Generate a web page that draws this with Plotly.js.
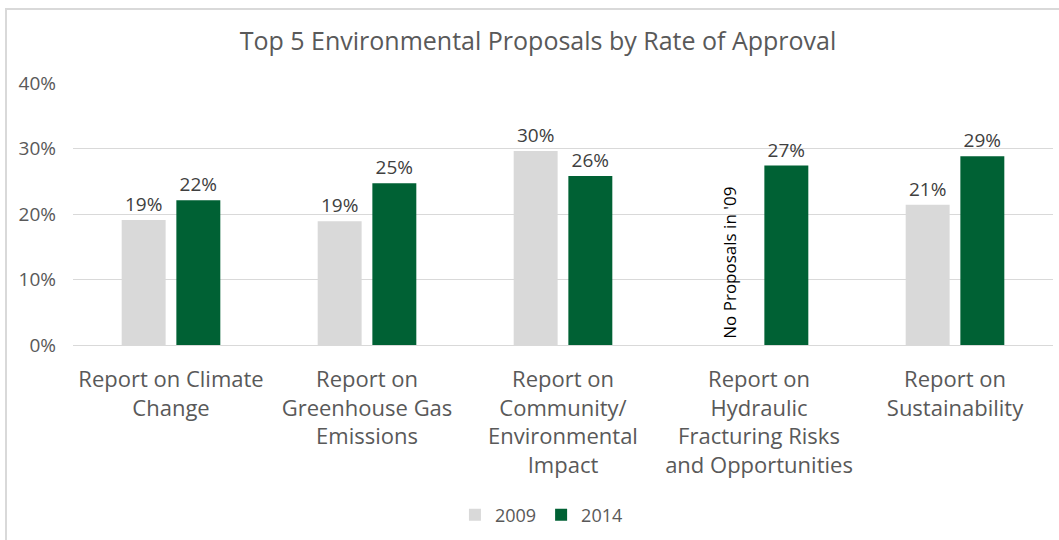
<!DOCTYPE html>
<html>
<head>
<meta charset="utf-8">
<script src="https://cdn.plot.ly/plotly-3.0.1.min.js"></script>
<style>
  html, body { margin: 0; padding: 0; background: #ffffff; }
  #wrap { position: relative; width: 1059px; height: 540px; }
  #chart { position: absolute; left: 0; top: 0; width: 1059px; height: 540px; }
  #frame { position: absolute; left: 5px; top: 8px; width: 1060px; height: 540px;
           border-left: 2px solid #d9d9d9; border-top: 2px solid #d9d9d9; pointer-events: none; }
</style>
</head>
<body>
<div id="wrap">
  <div id="chart"></div>
  <div id="frame"></div>
</div>
<script>
// ---- data ----
const categories = [
  "Report on Climate<br>Change",
  "Report on<br>Greenhouse Gas<br>Emissions",
  "Report on<br>Community/<br>Environmental<br>Impact",
  "Report on<br>Hydraulic<br>Fracturing Risks<br>and Opportunities",
  "Report on<br>Sustainability"
];
const series2009 = [0.191, 0.189, 0.296, null, 0.214];
const series2014 = [0.221, 0.247, 0.258, 0.274, 0.288];
const seriesNames = ["2009", "2014"];
const yTickValues = [0, 0.1, 0.2, 0.3, 0.4];
const chartTitle = "Top 5 Environmental Proposals by Rate of Approval";
const noteText = "No Proposals in '09";

const FONT = "Open Sans, sans-serif";

const traces = [
  {
    type: "bar", name: seriesNames[0], x: categories, y: series2009,
    marker: { color: "#d9d9d9" },
    texttemplate: "%{y:.0%}", textposition: "outside", cliponaxis: false,
    textfont: { family: FONT, size: 19, color: "#404040" },
    hoverinfo: "skip"
  },
  {
    type: "bar", name: seriesNames[1], x: categories, y: series2014,
    marker: { color: "#006134" },
    texttemplate: "%{y:.0%}", textposition: "outside", cliponaxis: false,
    textfont: { family: FONT, size: 19, color: "#404040" },
    hoverinfo: "skip"
  }
];

const layout = {
  width: 1059, height: 540,
  margin: { l: 73, r: 6, t: 83, b: 195 },
  paper_bgcolor: "rgba(0,0,0,0)", plot_bgcolor: "rgba(0,0,0,0)",
  font: { family: FONT, color: "#595959" },
  title: {
    text: chartTitle, x: 0.4745, xref: "paper", xanchor: "center",
    y: 44, yref: "container", yanchor: "middle",
    font: { family: FONT, size: 25, color: "#595959" }
  },
  barmode: "group", bargap: 0.442, bargroupgap: 0.196,
  showlegend: true,
  legend: {
    orientation: "h", x: 0.478, xanchor: "center", y: -0.649, yanchor: "middle",
    font: { family: FONT, size: 18, color: "#595959" },
    itemwidth: 30, traceorder: "normal"
  },
  xaxis: {
    type: "category", showgrid: false, zeroline: false, showline: false, ticks: "",
    tickfont: { family: FONT, size: 22, color: "#595959" },
    ticklabelstandoff: 19, fixedrange: true
  },
  yaxis: {
    range: [0, 0.4], tickvals: yTickValues, tickformat: ".0%",
    showgrid: true, gridcolor: "#d9d9d9", gridwidth: 1,
    zeroline: true, zerolinecolor: "#d9d9d9", zerolinewidth: 1,
    showline: false, ticks: "",
    tickfont: { family: FONT, size: 19, color: "#595959" },
    ticklabelstandoff: 16, fixedrange: true
  },
  annotations: [
    {
      text: noteText, x: 3, xref: "x", xshift: -29,
      y: 0.1256, yref: "y", xanchor: "center", yanchor: "middle",
      textangle: -90, showarrow: false,
      font: { family: FONT, size: 17, color: "#000000" }
    }
  ]
};

Plotly.newPlot("chart", traces, layout, { displayModeBar: false, staticPlot: true });
</script>
</body>
</html>
